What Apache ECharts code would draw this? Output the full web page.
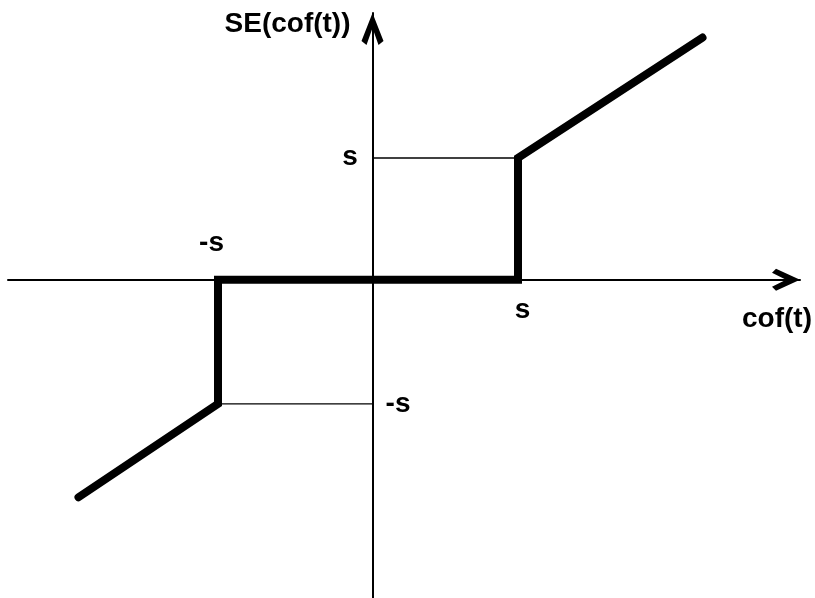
<!DOCTYPE html>
<html>
<head>
<meta charset="utf-8">
<script src="https://cdn.jsdelivr.net/npm/echarts@6/dist/echarts.min.js"></script>
<style>
	html, body { margin: 0; padding: 0; background: #fff; }
	#echarts { width: 815px; height: 598px; }
</style>
</head>
<body>
<div id="echarts"></div>
<script type="text/javascript">
	// thresholds (s is a bit wider on the left side)
	var sNeg = -1.03;
	var sPos = 0.97;
	var sUp = 0.99;
	var sDown = -1.01;

	// soft thresholding curve
	var curveX = [-1.96, sNeg, sNeg, sPos, sPos, 2.2];
	var curveY = [-1.77, sDown, 0, 0, sUp, 1.97];

	// thin guide lines to the vertical axis
	var guideLow = [[sNeg, sDown], [0, sDown]];
	var guideHigh = [[0, sUp], [sPos, sUp]];

	// tick-like labels
	var labelText = ['-s', 's', 's', '-s'];
	var labelAt = [[sNeg, 0], [sPos, 0], [0, sUp], [0, sDown]];
	var labelShift = [[-6, -36], [5, 31], [-22, 0], [26, 1]];

	var xName = 'cof(t)';
	var yName = 'SE(cof(t))';

	var font = {
		fontFamily: 'Liberation Sans, Arial, sans-serif',
		fontWeight: 'bold',
		fontSize: 28,
		color: '#000'
	};

	function refresh() {
		var thechart = echarts.init(document.getElementById('echarts'));
		var curve = [];
		for (var i = 0; i < curveX.length; i++) {
			curve.push([curveX[i], curveY[i]]);
		}
		var labels = [];
		for (var j = 0; j < labelText.length; j++) {
			labels.push({
				value: labelAt[j],
				label: {
					show: true,
					formatter: labelText[j],
					position: labelShift[j],
					align: 'center',
					verticalAlign: 'middle',
					color: '#000'
				}
			});
		}
		var theoption = {
			animation: false,
			backgroundColor: '#fff',
			grid: { left: 8, right: 15, top: 13, bottom: 0 },
			xAxis: {
				type: 'value',
				min: -2.43,
				max: 2.85,
				name: xName,
				nameLocation: 'end',
				nameGap: 12,
				nameTextStyle: {
					fontFamily: font.fontFamily,
					fontWeight: font.fontWeight,
					fontSize: font.fontSize,
					color: font.color,
					align: 'right',
					verticalAlign: 'top',
					padding: [26, 0, 0, 0]
				},
				axisLine: {
					show: true,
					onZero: true,
					lineStyle: { color: '#000', width: 2 },
					symbol: ['none', 'path://M11,0 L22,24 L18,28 L11,14 L4,28 L0,24 Z'],
					symbolSize: [22, 28],
					symbolOffset: [0, -14]
				},
				axisTick: { show: false },
				axisLabel: { show: false },
				splitLine: { show: false }
			},
			yAxis: {
				type: 'value',
				min: -2.59,
				max: 2.17,
				name: yName,
				nameLocation: 'end',
				nameGap: -11,
				nameTextStyle: {
					fontFamily: font.fontFamily,
					fontWeight: font.fontWeight,
					fontSize: font.fontSize,
					color: font.color,
					align: 'right',
					verticalAlign: 'middle',
					padding: [0, 22, 0, 0]
				},
				axisLine: {
					show: true,
					onZero: true,
					lineStyle: { color: '#000', width: 2 },
					symbol: ['none', 'path://M11,0 L22,28 L17,32 L11,15 L5,32 L0,28 Z'],
					symbolSize: [22, 32],
					symbolOffset: [0, -16]
				},
				axisTick: { show: false },
				axisLabel: { show: false },
				splitLine: { show: false }
			},
			series: [
				{
					type: 'line',
					data: guideLow,
					showSymbol: false,
					lineStyle: { color: '#000', width: 1.3 },
					z: 2
				},
				{
					type: 'line',
					data: guideHigh,
					showSymbol: false,
					lineStyle: { color: '#000', width: 1.3 },
					z: 2
				},
				{
					type: 'line',
					data: curve,
					showSymbol: false,
					lineStyle: { color: '#000', width: 8, cap: 'round', join: 'miter' },
					z: 3
				},
				{
					type: 'scatter',
					data: labels,
					symbolSize: 1,
					itemStyle: { color: 'rgba(0,0,0,0)', opacity: 1 },
					label: {
						fontFamily: font.fontFamily,
						fontWeight: font.fontWeight,
						fontSize: font.fontSize,
						color: font.color,
						opacity: 1
					},
					z: 4
				}
			]
		};
		thechart.setOption(theoption, true);
	}
	refresh();
</script>
</body>
</html>
